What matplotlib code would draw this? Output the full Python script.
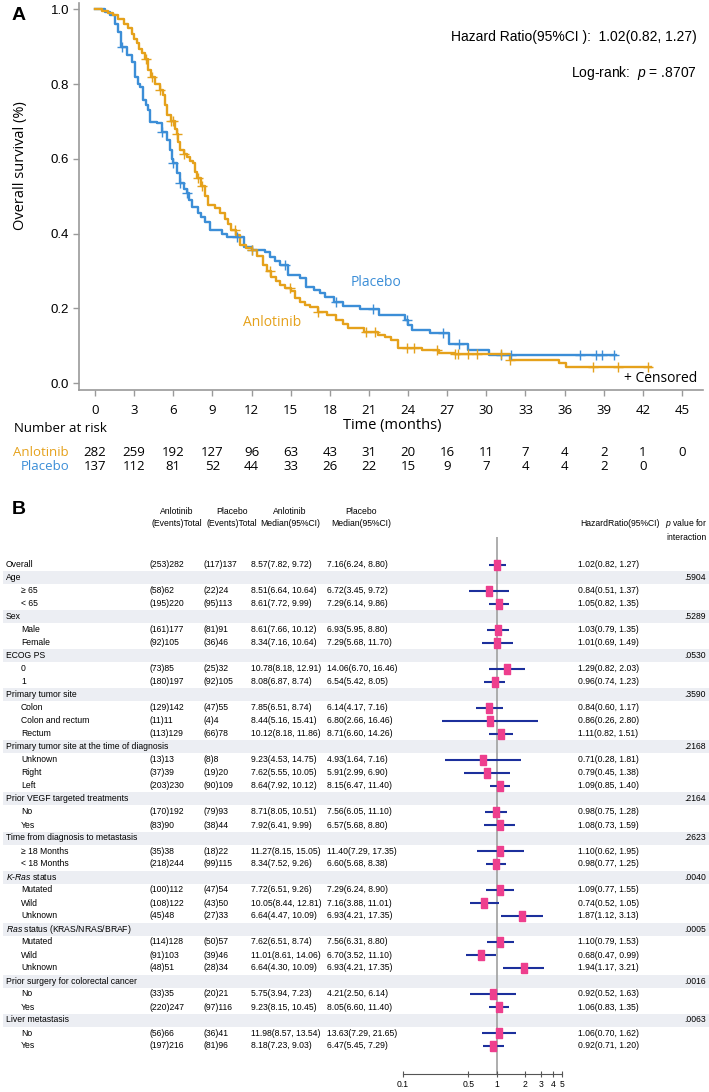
import numpy as np
import matplotlib
matplotlib.use('Agg')
import matplotlib.pyplot as plt
from matplotlib import font_manager
from matplotlib.patches import Rectangle
from matplotlib.transforms import blended_transform_factory

W, H = 709, 1092

# ---------------- data: panel A ----------------
anl_t = [0, 0.5, 1.0, 1.4, 1.8, 2.2, 2.5, 2.8, 3.0, 3.2, 3.4, 3.6, 3.8, 4.1, 4.3, 4.6, 5.0, 5.25,
         5.4, 5.55, 5.8, 6.1, 6.3, 6.4, 6.5, 6.8, 7.05, 7.3, 7.55, 7.7, 7.85, 8.1, 8.4, 8.7, 9.2,
         9.6, 10.0, 10.2, 10.4, 10.8, 11.1, 11.6, 12.0, 12.4, 12.9, 13.2, 13.5, 13.9, 14.2, 14.6,
         15.0, 15.3, 15.7, 16.1, 16.5, 17.1, 17.8, 18.5, 19.0, 19.4, 20.6, 21.7, 22.2, 22.7, 23.2,
         25.1, 26.4, 27.6, 31.8, 35.6, 36.1]
anl_s = [1.0, 0.996, 0.99, 0.985, 0.975, 0.962, 0.95, 0.935, 0.92, 0.909, 0.895, 0.882, 0.868,
         0.838, 0.82, 0.80, 0.784, 0.77, 0.745, 0.717, 0.70, 0.68, 0.665, 0.645, 0.623, 0.612,
         0.605, 0.595, 0.588, 0.565, 0.548, 0.528, 0.50, 0.476, 0.467, 0.455, 0.44, 0.425, 0.409,
         0.395, 0.37, 0.36, 0.355, 0.34, 0.315, 0.30, 0.283, 0.272, 0.262, 0.254, 0.245, 0.228,
         0.218, 0.21, 0.204, 0.191, 0.182, 0.169, 0.158, 0.146, 0.137, 0.128, 0.122, 0.115, 0.093,
         0.088, 0.081, 0.078, 0.0615, 0.053, 0.042]
anl_end = 42.6
anl_cens = [3.9, 4.35, 5.0, 5.8, 6.0, 6.3, 6.8, 7.9, 8.2, 10.7, 12.0, 13.4, 14.95, 17.1, 20.8,
            21.5, 23.9, 24.45, 26.2, 27.6, 27.8, 28.6, 29.3, 31.1, 31.8, 38.2, 40.1, 42.4]

pla_t = [0, 0.8, 1.15, 1.53, 1.79, 2.0, 2.43, 2.81, 3.07, 3.3, 3.45, 3.7, 3.9, 4.09, 4.22, 4.73,
         5.1, 5.5, 5.75, 5.9, 6.0, 6.26, 6.5, 6.8, 7.03, 7.2, 7.4, 7.9, 8.1, 8.4, 8.8, 9.7, 10.1,
         11.4, 12.0, 13.04, 13.4, 13.8, 14.2, 14.8, 15.7, 16.2, 16.8, 17.25, 17.66, 18.35, 19.05,
         20.3, 21.8, 23.75, 24.0, 24.3, 25.7, 27.1, 28.6, 30.2]
pla_s = [1.0, 0.993, 0.985, 0.962, 0.94, 0.90, 0.878, 0.86, 0.82, 0.80, 0.793, 0.757, 0.745,
         0.73, 0.699, 0.695, 0.672, 0.65, 0.623, 0.60, 0.588, 0.561, 0.534, 0.52, 0.508, 0.49,
         0.472, 0.454, 0.443, 0.432, 0.409, 0.40, 0.39, 0.365, 0.356, 0.351, 0.338, 0.327, 0.316,
         0.29, 0.28, 0.258, 0.25, 0.24, 0.23, 0.218, 0.206, 0.197, 0.182, 0.169, 0.155, 0.142,
         0.133, 0.105, 0.088, 0.075]
pla_end = 39.95
pla_cens = [2.04, 5.1, 6.0, 6.5, 7.03, 10.87, 12.0, 14.6, 18.46, 21.3, 23.9, 26.7, 27.9, 31.1,
            31.9, 37.2, 38.4, 38.9, 39.8]

risk_times = list(range(0, 46, 3))
risk_anl = [282, 259, 192, 127, 96, 63, 43, 31, 20, 16, 11, 7, 4, 2, 1, 0]
risk_pla = [137, 112, 81, 52, 44, 33, 26, 22, 15, 9, 7, 4, 4, 2, 0]

# ---------------- data: panel B ----------------
row_labels = ["Overall", "Age", "\u2265 65", "< 65", "Sex", "Male", "Female", "ECOG PS", "0", "1",
              "Primary tumor site", "Colon", "Colon and rectum", "Rectum",
              "Primary tumor site at the time of diagnosis", "Unknown", "Right", "Left",
              "Prior VEGF targeted treatments", "No", "Yes",
              "Time from diagnosis to metastasis", "\u2265 18 Months", "< 18 Months",
              "$K$-$Ras$ status", "Mutated", "Wild", "Unknown",
              "$Ras$ status (KRAS/NRAS/BRAF)", "Mutated", "Wild", "Unknown",
              "Prior surgery for colorectal cancer", "No", "Yes",
              "Liver metastasis", "No", "Yes"]
anl_events = ["(253)282", None, "(58)62", "(195)220", None, "(161)177", "(92)105", None, "(73)85",
              "(180)197", None, "(129)142", "(11)11", "(113)129", None, "(13)13", "(37)39",
              "(203)230", None, "(170)192", "(83)90", None, "(35)38", "(218)244", None, "(100)112",
              "(108)122", "(45)48", None, "(114)128", "(91)103", "(48)51", None, "(33)35",
              "(220)247", None, "(56)66", "(197)216"]
pla_events = ["(117)137", None, "(22)24", "(95)113", None, "(81)91", "(36)46", None, "(25)32",
              "(92)105", None, "(47)55", "(4)4", "(66)78", None, "(8)8", "(19)20", "(90)109", None,
              "(79)93", "(38)44", None, "(18)22", "(99)115", None, "(47)54", "(43)50", "(27)33",
              None, "(50)57", "(39)46", "(28)34", None, "(20)21", "(97)116", None, "(36)41",
              "(81)96"]
anl_median = ["8.57(7.82, 9.72)", None, "8.51(6.64, 10.64)", "8.61(7.72, 9.99)", None,
              "8.61(7.66, 10.12)", "8.34(7.16, 10.64)", None, "10.78(8.18, 12.91)",
              "8.08(6.87, 8.74)", None, "7.85(6.51, 8.74)", "8.44(5.16, 15.41)",
              "10.12(8.18, 11.86)", None, "9.23(4.53, 14.75)", "7.62(5.55, 10.05)",
              "8.64(7.92, 10.12)", None, "8.71(8.05, 10.51)", "7.92(6.41, 9.99)", None,
              "11.27(8.15, 15.05)", "8.34(7.52, 9.26)", None, "7.72(6.51, 9.26)",
              "10.05(8.44, 12.81)", "6.64(4.47, 10.09)", None, "7.62(6.51, 8.74)",
              "11.01(8.61, 14.06)", "6.64(4.30, 10.09)", None, "5.75(3.94, 7.23)",
              "9.23(8.15, 10.45)", None, "11.98(8.57, 13.54)", "8.18(7.23, 9.03)"]
pla_median = ["7.16(6.24, 8.80)", None, "6.72(3.45, 9.72)", "7.29(6.14, 9.86)", None,
              "6.93(5.95, 8.80)", "7.29(5.68, 11.70)", None, "14.06(6.70, 16.46)",
              "6.54(5.42, 8.05)", None, "6.14(4.17, 7.16)", "6.80(2.66, 16.46)",
              "8.71(6.60, 14.26)", None, "4.93(1.64, 7.16)", "5.91(2.99, 6.90)",
              "8.15(6.47, 11.40)", None, "7.56(6.05, 11.10)", "6.57(5.68, 8.80)", None,
              "11.40(7.29, 17.35)", "6.60(5.68, 8.38)", None, "7.29(6.24, 8.90)",
              "7.16(3.88, 11.01)", "6.93(4.21, 17.35)", None, "7.56(6.31, 8.80)",
              "6.70(3.52, 11.10)", "6.93(4.21, 17.35)", None, "4.21(2.50, 6.14)",
              "8.05(6.60, 11.40)", None, "13.63(7.29, 21.65)", "6.47(5.45, 7.29)"]
hr = [1.02, None, 0.84, 1.05, None, 1.03, 1.01, None, 1.29, 0.96, None, 0.84, 0.86, 1.11, None,
      0.71, 0.79, 1.09, None, 0.98, 1.08, None, 1.10, 0.98, None, 1.09, 0.74, 1.87, None, 1.10,
      0.68, 1.94, None, 0.92, 1.06, None, 1.06, 0.92]
hr_lo = [0.82, None, 0.51, 0.82, None, 0.79, 0.69, None, 0.82, 0.74, None, 0.60, 0.26, 0.82, None,
         0.28, 0.45, 0.85, None, 0.75, 0.73, None, 0.62, 0.77, None, 0.77, 0.52, 1.12, None, 0.79,
         0.47, 1.17, None, 0.52, 0.83, None, 0.70, 0.71]
hr_hi = [1.27, None, 1.37, 1.35, None, 1.35, 1.49, None, 2.03, 1.23, None, 1.17, 2.80, 1.51, None,
         1.81, 1.38, 1.40, None, 1.28, 1.59, None, 1.95, 1.25, None, 1.55, 1.05, 3.13, None, 1.53,
         0.99, 3.21, None, 1.63, 1.35, None, 1.62, 1.20]
p_interaction = [None, ".5904", None, None, ".5289", None, None, ".0530", None, None, ".3590",
                 None, None, None, ".2168", None, None, None, ".2164", None, None, ".2623", None,
                 None, ".0040", None, None, None, ".0005", None, None, None, ".0016", None, None,
                 ".0063", None, None]
forest_ticks = [0.1, 0.5, 1, 2, 3, 4, 5]
forest_ticklabels = ["0.1", "0.5", "1", "2", "3", "4", "5"]

# ---------------- fonts / styles ----------------
names = {f.name for f in font_manager.fontManager.ttflist}
NARROW = 'Liberation Sans Narrow' if 'Liberation Sans Narrow' in names else 'Liberation Sans'
FS_T = 7.0 if NARROW == 'Liberation Sans Narrow' else 6.2
ARIAL = 'Liberation Sans'
OPEN = 'Open Sans' if 'Open Sans' in names else 'DejaVu Sans'
plt.rcParams['font.family'] = [NARROW, 'DejaVu Sans']
plt.rcParams['mathtext.fontset'] = 'custom'
plt.rcParams['mathtext.rm'] = NARROW
plt.rcParams['mathtext.it'] = NARROW + ':italic'

C_ANL = '#E5A11B'
C_PLA = '#3C8ED7'
C_CI = '#1C2F9C'
C_SQ = '#EE3F8E'
C_BAND = '#ECEEF3'
C_AX = '#9A9A9A'

fig = plt.figure(figsize=(W / 100, H / 100), dpi=100)
ax0 = fig.add_axes([0, 0, 1, 1])
ax0.set_xlim(0, W)
ax0.set_ylim(H, 0)
ax0.axis('off')

# ---------------- Panel A ----------------
kx0, kx1, ky0, ky1 = 79, 703, 3, 390
x_zero, px_month = 95.0, (682 - 95) / 45.0
y_zero, px_unit = 383.0, 383.0 - 9.3
ax = fig.add_axes([kx0 / W, 1 - ky1 / H, (kx1 - kx0) / W, (ky1 - ky0) / H])
ax.patch.set_alpha(0)
ax.set_xlim((kx0 - x_zero) / px_month, (kx1 - x_zero) / px_month)
ax.set_ylim((y_zero - ky1) / px_unit, (y_zero - ky0) / px_unit)


def draw_km(t, s, end, cens, color):
    tt = list(t) + [end]
    ss = list(s) + [s[-1]]
    ax.step(tt, ss, where='post', color=color, lw=1.7, zorder=3)
    ta = np.array(t)
    sa = np.array(s)
    cy = [sa[np.searchsorted(ta, c, side='right') - 1] for c in cens]
    ax.plot(cens, cy, linestyle='none', marker='+', ms=7, mew=1.0, color=color, zorder=4)


draw_km(pla_t, pla_s, pla_end, pla_cens, C_PLA)
draw_km(anl_t, anl_s, anl_end, anl_cens, C_ANL)

for sp in ['top', 'right']:
    ax.spines[sp].set_visible(False)
for sp in ['left', 'bottom']:
    ax.spines[sp].set_color(C_AX)
    ax.spines[sp].set_linewidth(1.2)
ax.set_xticks(risk_times)
ax.set_xticklabels([str(v) for v in risk_times], fontfamily=OPEN, fontsize=9.5)
ax.set_yticks([0, 0.2, 0.4, 0.6, 0.8, 1.0])
ax.set_yticklabels(["0.0", "0.2", "0.4", "0.6", "0.8", "1.0"], fontfamily=ARIAL, fontsize=9.5)
ax.tick_params(axis='both', direction='out', length=4, width=1, color=C_AX, pad=3)
ax.tick_params(axis='x', pad=6)

ax.text(19.6, 0.27, "Placebo", color=C_PLA, fontfamily=OPEN, fontsize=10, va='center', ha='left')
ax.text(11.35, 0.163, "Anlotinib", color=C_ANL, fontfamily=OPEN, fontsize=10, va='center', ha='left')

ax0.text(12, 15, "A", fontfamily=ARIAL, fontweight='bold', fontsize=14, va='center', ha='left')
ax0.text(697, 37, "Hazard Ratio(95%CI ):  1.02(0.82, 1.27)", fontfamily=ARIAL, fontsize=10,
         ha='right', va='center')
ax0.text(697, 73, "Log-rank:  $p$ = .8707", fontfamily=ARIAL, fontsize=10, ha='right', va='center')
ax0.text(697, 379, "+ Censored", fontfamily=OPEN, fontsize=10, ha='right', va='center')
ax0.text(21, 166, "Overall survival (%)", fontfamily=OPEN, fontsize=10.5, rotation=90,
         ha='center', va='center')
ax0.text(392, 426, "Time (months)", fontfamily=OPEN, fontsize=10.5, ha='center', va='center')
ax0.text(14, 429, "Number at risk", fontfamily=OPEN, fontsize=9.5, ha='left', va='center')
ax0.text(69, 452, "Anlotinib", fontfamily=OPEN, fontsize=9.5, ha='right', va='center', color=C_ANL)
ax0.text(69, 466, "Placebo", fontfamily=OPEN, fontsize=9.5, ha='right', va='center', color=C_PLA)

trans_r = blended_transform_factory(ax.transData, ax0.transData)
for tm, n in zip(risk_times, risk_anl):
    ax0.text(tm, 452, str(n), transform=trans_r, fontfamily=OPEN, fontsize=9.5, ha='center',
             va='center')
for tm, n in zip(risk_times, risk_pla):
    ax0.text(tm, 466, str(n), transform=trans_r, fontfamily=OPEN, fontsize=9.5, ha='center',
             va='center')

# ---------------- Panel B ----------------
ax0.text(12, 510, "B", fontfamily=ARIAL, fontweight='bold', fontsize=14, va='center', ha='left')
hdr_kw = dict(fontfamily=NARROW, fontsize=FS_T, va='center')
ax0.text(177, 512, "Anlotinib", ha='center', **hdr_kw)
ax0.text(177, 524, "(Events)Total", ha='center', **hdr_kw)
ax0.text(232, 512, "Placebo", ha='center', **hdr_kw)
ax0.text(232, 524, "(Events)Total", ha='center', **hdr_kw)
ax0.text(290, 512, "Anlotinib", ha='center', **hdr_kw)
ax0.text(290, 524, "Median(95%CI)", ha='center', **hdr_kw)
ax0.text(361, 512, "Placebo", ha='center', **hdr_kw)
ax0.text(361, 524, "Median(95%CI)", ha='center', **hdr_kw)
ax0.text(580, 524, "HazardRatio(95%CI)", ha='left', **hdr_kw)
ax0.text(707, 524, "$p$ value for", ha='right', **hdr_kw)
ax0.text(707, 538, "interaction", ha='right', **hdr_kw)

row0_px, row_px = 565.0, 13.0
fy_top, fy_bot = 537.0, 1074.0
ylim_rows = ((fy_bot - row0_px) / row_px, (fy_top - row0_px) / row_px)

axt = fig.add_axes([0, 1 - fy_bot / H, 1, (fy_bot - fy_top) / H])
axt.set_xlim(0, W)
axt.set_ylim(*ylim_rows)
axt.axis('off')

n_rows = len(row_labels)
tkw = dict(fontfamily=NARROW, fontsize=FS_T, va='center')
for i in range(n_rows):
    header = anl_events[i] is None
    if header:
        axt.add_patch(Rectangle((3, i - 0.5), W - 3, 1.0, facecolor=C_BAND, edgecolor='none',
                                zorder=0))
    x_lab = 6 if (header or i == 0) else 21
    axt.text(x_lab, i, row_labels[i], ha='left', **tkw)
    if not header:
        axt.text(150, i, anl_events[i], ha='left', **tkw)
        axt.text(203, i, pla_events[i], ha='left', **tkw)
        axt.text(251, i, anl_median[i], ha='left', **tkw)
        axt.text(327, i, pla_median[i], ha='left', **tkw)
        axt.text(578, i, "%.2f(%.2f, %.2f)" % (hr[i], hr_lo[i], hr_hi[i]), ha='left', **tkw)
    if p_interaction[i] is not None:
        axt.text(706, i, p_interaction[i], ha='right', **tkw)

fx0, fx1 = 403.0, 562.0
axf = fig.add_axes([fx0 / W, 1 - fy_bot / H, (fx1 - fx0) / W, (fy_bot - fy_top) / H])
axf.patch.set_alpha(0)
axf.set_xscale('log')
axf.set_xlim(0.1, 5)
axf.set_ylim(*ylim_rows)
axf.axvline(1, color='#A0A0A0', lw=1.2, zorder=1)
sq_marker = [(-0.35, -0.5), (0.35, -0.5), (0.35, 0.5), (-0.35, 0.5), (-0.35, -0.5)]
for i in range(n_rows):
    if hr[i] is None:
        continue
    axf.plot([hr_lo[i], hr_hi[i]], [i, i], color=C_CI, lw=1.5, solid_capstyle='butt', zorder=2)
    axf.plot([hr[i]], [i], marker=sq_marker, ms=6.5, color=C_SQ, mec=C_SQ, linestyle='none',
             zorder=3)
for sp in ['top', 'right', 'left']:
    axf.spines[sp].set_visible(False)
axf.spines['bottom'].set_color('#555555')
axf.spines['bottom'].set_linewidth(0.8)
axf.set_yticks([])
axf.set_xticks(forest_ticks)
axf.set_xticklabels(forest_ticklabels, fontfamily=NARROW, fontsize=FS_T)
axf.xaxis.set_minor_locator(matplotlib.ticker.NullLocator())
axf.tick_params(axis='x', direction='inout', length=5, width=0.8, color='#555555', pad=2)

fig.savefig('out.png', dpi=100)
